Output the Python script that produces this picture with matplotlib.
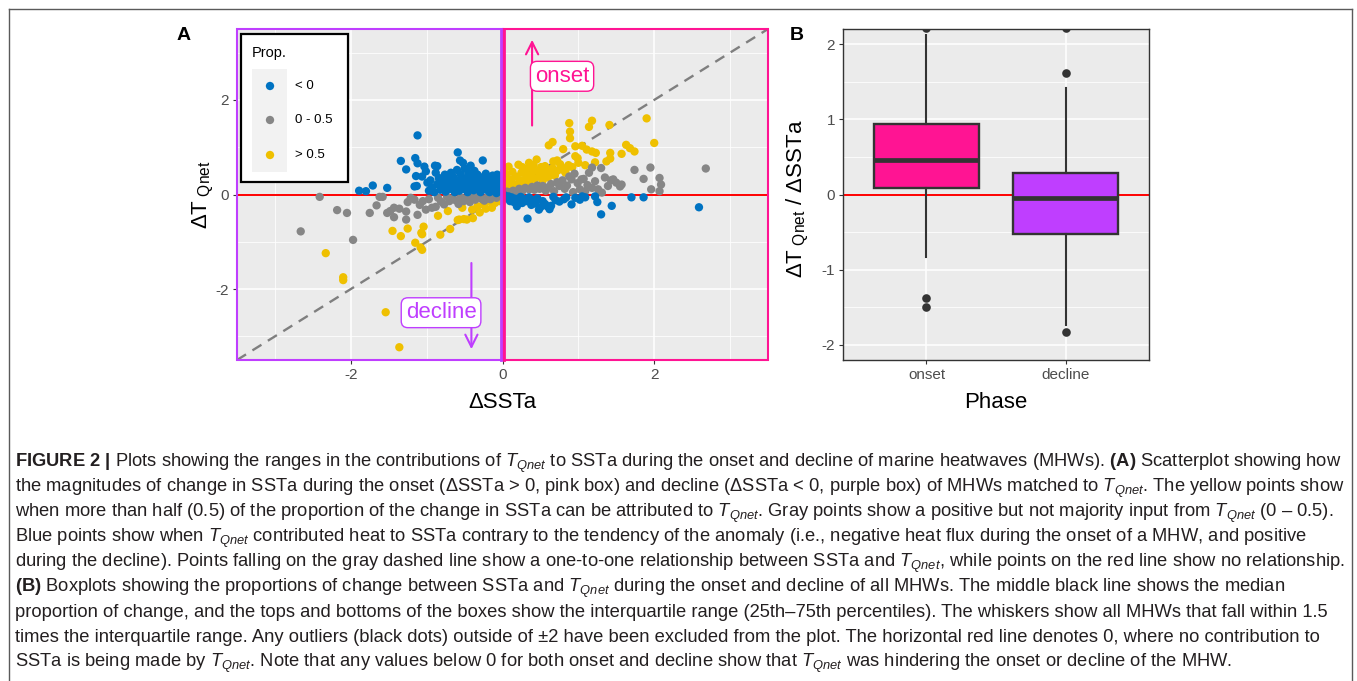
import matplotlib
matplotlib.use('Agg')
import matplotlib.pyplot as plt
from matplotlib import font_manager as fm
from matplotlib.patches import Rectangle
from matplotlib.lines import Line2D

# ---------------- data ----------------
# Panel A: (dSSTa, dT_Qnet) points grouped by proportion class
prop_neg = [  # "< 0"
    (-1.89, 0.08), (-1.80, 0.07), (-1.71, 0.19), (-1.52, 0.14), (-1.34, 0.71), (-1.27, 0.53),
    (-1.16, 0.17), (-1.12, 1.25), (-1.15, 0.77), (-1.12, 0.66), (-1.14, 0.39), (-1.13, 0.18),
    (-1.06, 0.38), (-1.03, 0.59), (-1.01, 0.49), (-0.99, 0.25), (-0.97, 0.08), (-0.95, 0.30),
    (-0.93, 0.15), (-0.90, 0.05), (-0.89, 0.61), (-0.88, 0.46), (-0.86, 0.60), (-0.86, 0.22),
    (-0.84, 0.35), (-0.82, 0.10), (-0.80, 0.28), (-0.78, 0.18), (-0.76, 0.42), (-0.75, 0.06),
    (-0.73, 0.32), (-0.71, 0.20), (-0.69, 0.12), (-0.68, 0.46), (-0.66, 0.26), (-0.65, 0.38),
    (-0.63, 0.05), (-0.62, 0.16), (-0.60, 0.52), (-0.59, 0.89), (-0.58, 0.30), (-0.57, 0.08),
    (-0.56, 0.72), (-0.55, 0.42), (-0.54, 0.20), (-0.52, 0.67), (-0.51, 0.12), (-0.50, 0.55),
    (-0.49, 0.33), (-0.47, 0.24), (-0.46, 0.05), (-0.45, 0.46), (-0.43, 0.16), (-0.42, 0.61),
    (-0.41, 0.36), (-0.40, 0.27), (-0.38, 0.09), (-0.37, 0.50), (-0.36, 0.19), (-0.34, 0.31),
    (-0.33, 0.42), (-0.31, 0.12), (-0.30, 0.24), (-0.29, 0.05), (-0.27, 0.36), (-0.26, 0.72),
    (-0.25, 0.18), (-0.24, 0.29), (-0.22, 0.44), (-0.21, 0.10), (-0.20, 0.22), (-0.18, 0.33),
    (-0.17, 0.05), (-0.16, 0.15), (-0.14, 0.27), (-0.13, 0.40), (-0.12, 0.09), (-0.10, 0.20),
    (-0.09, 0.31), (-0.08, 0.03), (-0.07, 0.42), (-0.06, 0.14), (-0.05, 0.24), (-0.04, 0.07),
    (-0.03, 0.17), (-0.02, 0.30), (-0.01, 0.10),
    (0.03, -0.02), (0.05, -0.08), (0.08, -0.04), (0.10, -0.14), (0.12, -0.06), (0.15, -0.16),
    (0.17, -0.09), (0.19, -0.25), (0.21, -0.12), (0.24, -0.05), (0.26, -0.18), (0.29, -0.10),
    (0.32, -0.14), (0.33, -0.51), (0.35, -0.06), (0.38, -0.22), (0.41, -0.12), (0.43, -0.19),
    (0.46, -0.08), (0.48, -0.32), (0.50, -0.27), (0.53, -0.14), (0.56, -0.20), (0.59, -0.25),
    (0.62, -0.31), (0.64, -0.24), (0.67, -0.05), (0.70, -0.12), (0.75, -0.15), (0.81, -0.10),
    (0.84, -0.06), (0.91, -0.21), (0.96, -0.07), (1.02, -0.11), (1.05, -0.04), (1.09, -0.06),
    (1.22, -0.04), (1.25, -0.16), (1.30, -0.42), (1.44, -0.24), (1.70, -0.06), (1.86, -0.06),
    (2.59, -0.27),
]
prop_low = [  # "0 - 0.5"
    (-2.66, -0.78), (-2.41, -0.05), (-2.18, -0.33), (-2.05, -0.39), (-1.97, -0.96), (-1.75, -0.39),
    (-1.66, -0.23), (-1.62, -0.05), (-1.58, -0.05), (-1.52, -0.39), (-1.48, -0.35), (-1.43, -0.28),
    (-1.43, -0.48), (-1.36, -0.30), (-1.27, -0.36), (-1.27, -0.53), (-1.25, -0.16), (-1.21, -0.07),
    (-1.16, -0.11), (-1.12, -0.43), (-1.09, -0.22), (-1.05, -0.14), (-1.01, -0.32), (-0.97, -0.10),
    (-0.93, -0.28), (-0.88, -0.26), (-0.85, -0.07), (-0.81, -0.15), (-0.77, -0.21), (-0.73, -0.05),
    (-0.70, -0.14), (-0.66, -0.09), (-0.62, -0.12), (-0.58, -0.20), (-0.55, -0.06), (-0.51, -0.14),
    (-0.47, -0.08), (-0.43, -0.16), (-0.40, -0.05), (-0.36, -0.11), (-0.32, -0.04), (-0.28, -0.09),
    (-0.24, -0.13), (-0.20, -0.06), (-0.16, -0.10), (-0.12, -0.04), (-0.08, -0.07), (-0.04, -0.02),
    (0.02, 0.03), (0.06, 0.06), (0.10, 0.04), (0.14, 0.08), (0.18, 0.05), (0.22, 0.12),
    (0.26, 0.07), (0.30, 0.14), (0.35, 0.11), (0.39, 0.16), (0.42, 0.10), (0.46, 0.19),
    (0.49, 0.12), (0.53, 0.18), (0.57, 0.08), (0.60, 0.15), (0.64, 0.22), (0.68, 0.07),
    (0.72, 0.26), (0.75, 0.18), (0.79, 0.30), (0.82, 0.12), (0.85, 0.19), (0.88, 0.38),
    (0.91, 0.32), (0.93, 0.05), (0.95, 0.44), (0.99, 0.24), (1.02, 0.11), (1.04, 0.32),
    (1.07, 0.33), (1.09, 0.07), (1.12, 0.20), (1.14, 0.46), (1.18, 0.57), (1.18, 0.14),
    (1.22, 0.28), (1.26, 0.11), (1.30, 0.56), (1.31, 0.04), (1.35, 0.36), (1.39, 0.18),
    (1.43, 0.30), (1.46, 0.32), (1.50, 0.25), (1.55, 0.17), (1.57, 0.21), (1.74, 0.52),
    (1.86, 0.33), (1.95, 0.57), (1.96, 0.11), (2.07, 0.35), (2.09, 0.21), (2.07, 0.07),
    (2.68, 0.55),
]
prop_high = [  # "> 0.5"
    (-2.33, -1.24), (-2.10, -1.75), (-2.10, -1.81), (-1.54, -2.49), (-1.36, -3.23), (-1.45, -0.77),
    (-1.34, -0.88), (-1.25, -0.72), (-1.07, -0.81), (-1.04, -0.68), (-1.06, -0.84), (-1.15, -1.02),
    (-1.08, -1.12), (-1.06, -1.17), (-0.85, -0.45), (-0.82, -0.85), (-0.72, -0.35), (-0.69, -0.73),
    (-0.59, -0.54), (-0.57, -0.53), (-0.53, -0.28), (-0.51, -0.52), (-0.47, -0.53), (-0.40, -0.32),
    (-0.39, -0.50), (-0.33, -0.25), (-0.30, -0.38), (-0.25, -0.21), (-0.22, -0.30), (-0.18, -0.14),
    (-0.14, -0.28), (-0.10, -0.18), (-0.07, -0.11), (-0.04, -0.14), (-0.02, -0.06),
    (1.90, 1.61), (2.00, 1.09), (1.41, 1.47), (1.18, 1.56), (1.14, 1.43), (0.88, 1.51),
    (0.89, 1.33), (0.89, 1.19), (0.66, 1.11), (0.61, 1.04), (0.80, 0.96), (0.96, 1.02),
    (1.05, 1.03), (1.11, 0.95), (1.18, 0.91), (1.23, 0.88), (1.42, 0.88), (1.57, 0.86),
    (1.63, 1.05), (1.68, 0.98), (1.74, 0.91), (1.37, 0.70), (1.42, 0.76), (1.22, 0.68),
    (1.09, 0.62), (0.96, 0.81), (0.99, 0.77), (0.85, 0.57), (0.76, 0.64), (0.72, 0.72),
    (0.67, 0.70), (0.56, 0.60), (0.45, 0.74), (0.40, 0.52), (0.35, 0.67), (0.30, 0.45),
    (0.26, 0.58), (0.21, 0.63), (0.08, 0.59), (0.05, 0.42), (0.06, 0.21), (0.06, 0.11),
    (0.10, 0.32), (0.13, 0.48), (0.15, 0.22), (0.18, 0.38), (0.20, 0.15), (0.23, 0.30),
    (0.25, 0.46), (0.28, 0.24), (0.31, 0.35), (0.33, 0.55), (0.36, 0.28), (0.38, 0.42),
    (0.41, 0.62), (0.43, 0.33), (0.46, 0.49), (0.49, 0.40), (0.51, 0.58), (0.53, 0.30),
    (0.55, 0.45), (0.58, 0.52), (0.60, 0.36), (0.63, 0.43), (0.66, 0.56), (0.69, 0.40),
    (0.72, 0.50), (0.78, 0.53), (0.83, 0.46), (0.87, 0.62), (0.92, 0.58), (1.00, 0.67),
    (0.03, 0.25), (0.02, 0.48), (0.11, 0.08), (0.09, 0.17),
]
legend_labels = ['< 0', '0 - 0.5', '> 0.5']
axis_ticks_a = [-2, 0, 2]

# Panel B: boxplot summaries of dT_Qnet / dSSTa by phase
phases = ['onset', 'decline']
box_q1 = [0.084, -0.53]
box_med = [0.46, -0.04]
box_q3 = [0.934, 0.283]
whisk_lo = [-0.83, -1.74]
whisk_hi = [2.12, 1.41]
outliers = [[2.21, -1.376, -1.496], [2.21, 1.61, -1.83]]
ticks_b = [-2, -1, 0, 1, 2]

caption_lines = [
    r"$\mathbf{FIGURE\ 2\ |}$ Plots showing the ranges in the contributions of $T_{Qnet}$ to SSTa during the onset and decline of marine heatwaves (MHWs). $\mathbf{(A)}$ Scatterplot showing how",
    r"the magnitudes of change in SSTa during the onset (ΔSSTa > 0, pink box) and decline (ΔSSTa < 0, purple box) of MHWs matched to $T_{Qnet}$. The yellow points show",
    r"when more than half (0.5) of the proportion of the change in SSTa can be attributed to $T_{Qnet}$. Gray points show a positive but not majority input from $T_{Qnet}$ (0 – 0.5).",
    r"Blue points show when $T_{Qnet}$ contributed heat to SSTa contrary to the tendency of the anomaly (i.e., negative heat flux during the onset of a MHW, and positive",
    r"during the decline). Points falling on the gray dashed line show a one-to-one relationship between SSTa and $T_{Qnet}$, while points on the red line show no relationship.",
    r"$\mathbf{(B)}$ Boxplots showing the proportions of change between SSTa and $T_{Qnet}$ during the onset and decline of all MHWs. The middle black line shows the median",
    r"proportion of change, and the tops and bottoms of the boxes show the interquartile range (25th–75th percentiles). The whiskers show all MHWs that fall within 1.5",
    r"times the interquartile range. Any outliers (black dots) outside of ±2 have been excluded from the plot. The horizontal red line denotes 0, where no contribution to",
    r"SSTa is being made by $T_{Qnet}$. Note that any values below 0 for both onset and decline show that $T_{Qnet}$ was hindering the onset or decline of the MHW.",
]

# ---------------- style ----------------
names = {f.name for f in fm.fontManager.ttflist}
BASE = 'Liberation Sans'
CAP = 'Liberation Sans Narrow' if 'Liberation Sans Narrow' in names else BASE
plt.rcParams['font.family'] = [BASE, 'DejaVu Sans']
plt.rcParams['mathtext.fontset'] = 'custom'
plt.rcParams['mathtext.rm'] = BASE
plt.rcParams['mathtext.it'] = BASE + ':italic'
plt.rcParams['mathtext.bf'] = BASE + ':bold'

W, H = 1357, 681
PINK = '#FF1493'
PURPLE = '#BF3EFF'
BLUE, GRAY, YELLOW = '#0073C2', '#868686', '#EFC000'
PANEL_BG = '#EBEBEB'
TICK_C = '#4D4D4D'
DARK = '#333333'
PT_SIZE = 36

fig = plt.figure(figsize=(W / 100, H / 100), dpi=100)


def ax_rect(x0, y0, x1, y1):
    return [x0 / W, 1 - y1 / H, (x1 - x0) / W, (y1 - y0) / H]


def style_axes(ax):
    ax.set_facecolor(PANEL_BG)
    ax.grid(True, which='major', color='white', lw=1.1)
    ax.grid(True, which='minor', color='white', lw=0.55)
    ax.set_axisbelow(True)
    ax.tick_params(which='major', length=2.6, width=0.8, color=DARK,
                   labelsize=11, labelcolor=TICK_C, pad=3.0)
    ax.tick_params(which='minor', length=0)


def ylabel_text(ax, x, y, prefix_after):
    """Rotated axis title: large 'ΔT', lowered 'Qnet', optional suffix."""
    return ax.text(x, y, r'Δ$\mathrm{T}_{\ \mathrm{Qnet}}$' + prefix_after, transform=ax.transAxes,
                   fontsize=16, ha='center', va='center', rotation=90)


# ---------------- Panel A ----------------
axA = fig.add_axes(ax_rect(237, 29, 768, 360))
style_axes(axA)
axA.set_xlim(-3.5, 3.5)
axA.set_ylim(-3.5, 3.5)
axA.set_xticks(axis_ticks_a)
axA.set_yticks(axis_ticks_a)
axA.set_xticks([-3, -1, 1, 3], minor=True)
axA.set_yticks([-3, -1, 1, 3], minor=True)
axA.set_xticklabels([str(t) for t in axis_ticks_a])
axA.set_yticklabels([str(t) for t in axis_ticks_a])
for s in axA.spines.values():
    s.set_visible(False)

axA.axline((0, 0), slope=1, color='#7F7F7F', lw=1.7, dashes=(4.5, 3.2), zorder=1.5)
axA.axhline(0, color='red', lw=1.4, zorder=1.6)

for pts, col in [(prop_high, YELLOW), (prop_low, GRAY), (prop_neg, BLUE)]:
    xs = [p[0] for p in pts]
    ys = [p[1] for p in pts]
    axA.scatter(xs, ys, s=PT_SIZE, color=col, edgecolors='none', zorder=3)

# phase rectangles
axA.add_patch(Rectangle((-3.5, -3.5), 3.5, 7, fill=False, edgecolor=PURPLE, lw=1.5,
                        zorder=4, clip_on=False))
axA.add_patch(Rectangle((0, -3.5), 3.5, 7, fill=False, edgecolor=PINK, lw=1.5,
                        zorder=4, clip_on=False))
axA.plot([-0.02, -0.02], [-3.5, 3.5], color=PURPLE, lw=2.0, zorder=4.1, clip_on=False)
axA.plot([0.02, 0.02], [-3.5, 3.5], color=PINK, lw=2.0, zorder=4.2, clip_on=False)

# arrows + labels
axA.annotate('', xy=(0.39, 3.33), xytext=(0.39, 1.40),
             arrowprops=dict(arrowstyle='->', color=PINK, lw=1.5, mutation_scale=22), zorder=5)
axA.text(0.785, 2.5, 'onset', color=PINK, fontsize=16, ha='center', va='center', zorder=6,
         bbox=dict(boxstyle='round,pad=0.2,rounding_size=0.3', fc='white', ec=PINK, lw=1.0))
axA.annotate('', xy=(-0.41, -3.33), xytext=(-0.41, -1.39),
             arrowprops=dict(arrowstyle='->', color=PURPLE, lw=1.5, mutation_scale=22), zorder=5)
axA.text(-0.81, -2.5, 'decline', color=PURPLE, fontsize=16, ha='center', va='center', zorder=6,
         bbox=dict(boxstyle='round,pad=0.2,rounding_size=0.3', fc='white', ec=PURPLE, lw=1.0))


# manual legend (axes fraction coords)
def fx(px):
    return (px - 237) / 531.0


def fy(py):
    return (360 - py) / 331.0


axA.add_patch(Rectangle((fx(241), fy(182)), fx(348) - fx(241), fy(34) - fy(182),
                        transform=axA.transAxes, fc='white', ec='black', lw=1.6, zorder=7))
axA.add_patch(Rectangle((fx(252), fy(172)), fx(287) - fx(252), fy(69) - fy(172),
                        transform=axA.transAxes, fc='#F2F2F2', ec='none', zorder=7.1))
axA.text(fx(252), fy(53), 'Prop.', transform=axA.transAxes, fontsize=10.5, ha='left',
         va='center', zorder=8)
for lab, col, py in zip(legend_labels, [BLUE, GRAY, YELLOW], [86, 120, 155]):
    axA.scatter([fx(270)], [fy(py)], transform=axA.transAxes, s=PT_SIZE, color=col,
                edgecolors='none', zorder=8, clip_on=False)
    axA.text(fx(295), fy(py), lab, transform=axA.transAxes, fontsize=9.5, ha='left',
             va='center', zorder=8)

axA.text(0.5, fy(402), 'ΔSSTa', transform=axA.transAxes, fontsize=16, ha='center', va='center')
ylabel_text(axA, fx(203), 0.5, '')

# ---------------- Panel B ----------------
axB = fig.add_axes(ax_rect(843, 29, 1149, 360))
style_axes(axB)
axB.set_xlim(0.4, 2.6)
axB.set_ylim(-2.2, 2.2)
axB.set_yticks(ticks_b)
axB.set_yticklabels([str(t) for t in ticks_b])
axB.set_yticks([-1.5, -0.5, 0.5, 1.5], minor=True)
axB.axhline(0, color='red', lw=1.4, zorder=1.6)

stats = []
for i, ph in enumerate(phases):
    stats.append(dict(label=ph, q1=box_q1[i], med=box_med[i], q3=box_q3[i],
                      whislo=whisk_lo[i], whishi=whisk_hi[i], fliers=outliers[i]))
bp = axB.bxp(stats, positions=[1, 2], widths=0.75, patch_artist=True, showcaps=False,
             boxprops=dict(edgecolor=DARK, lw=1.7),
             medianprops=dict(color=DARK, lw=3.4, solid_capstyle='butt'),
             whiskerprops=dict(color=DARK, lw=1.5),
             flierprops=dict(marker='o', markersize=6.2, markerfacecolor=DARK,
                             markeredgecolor='none'),
             zorder=3)
for patch, col in zip(bp['boxes'], [PINK, PURPLE]):
    patch.set_facecolor(col)
axB.set_xticks([1, 2])
axB.set_xticklabels(phases)
for s in axB.spines.values():
    s.set_color(DARK)
    s.set_linewidth(1.0)


def gx(px):
    return (px - 843) / 306.0


axB.text(0.5, fy(402), 'Phase', transform=axB.transAxes, fontsize=16, ha='center', va='center')
ylabel_text(axB, gx(798), fy(199), ' / ΔSSTa')

# panel letters
fig.text(184 / W, 1 - 35 / H, 'A', fontsize=14, fontweight='bold', ha='center', va='center')
fig.text(797 / W, 1 - 35 / H, 'B', fontsize=14, fontweight='bold', ha='center', va='center')

# outer frame
for xs, ys in [([8.5, 8.5], [H, 8.5]), ([8.5, 1352], [8.5, 8.5]), ([1352, 1352], [8.5, H])]:
    fig.add_artist(Line2D([x / W for x in xs], [1 - y / H for y in ys], color='#5A5A5A', lw=1.0))

# caption
texts = []
for i, line in enumerate(caption_lines):
    t = fig.text(15 / W, 1 - (467 + i * 25.0) / H, line, family=CAP, fontsize=12,
                 ha='left', va='baseline', color='#231F20')
    texts.append(t)
fig.canvas.draw()
r = fig.canvas.get_renderer()
w0 = texts[0].get_window_extent(r).width
fs = 12 * 1323.0 / w0
for t in texts:
    t.set_fontsize(fs)

fig.savefig('out.png', dpi=100)
